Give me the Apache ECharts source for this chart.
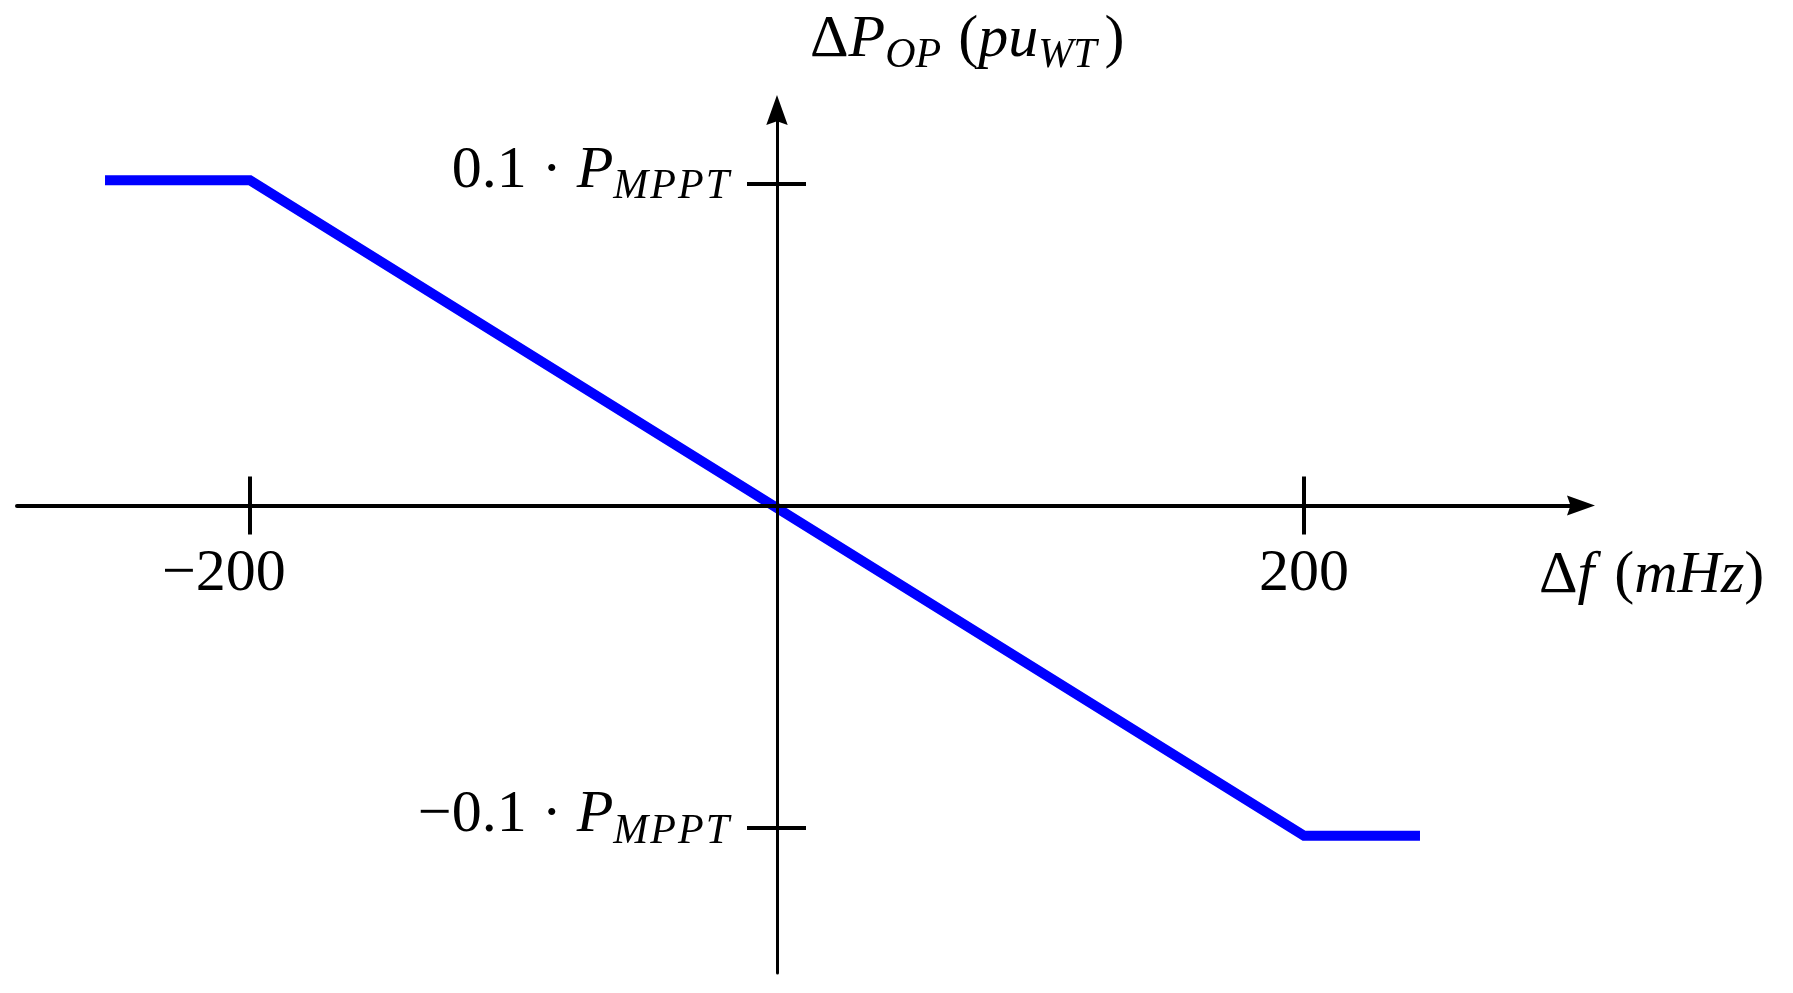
<!DOCTYPE html>
<html>
<head>
<meta charset="utf-8">
<script src="https://cdn.jsdelivr.net/npm/echarts@6/dist/echarts.min.js"></script>
<style>
html, body { margin: 0; padding: 0; background: #ffffff; }
#chart { width: 1793px; height: 993px; }
</style>
</head>
<body>
<div id="chart"></div>
<script>
// ---- data ----
const freqMHz = [-255, -200, 200, 244];            // Δf (mHz) of the droop curve breakpoints
const powerPu = [0.101, 0.101, -0.1025, -0.1025];   // ΔP_OP (pu_WT) at those breakpoints
const xTickValues = [-200, 200];
const xTickLabels = ['\u2212200', '200'];
const yTickValues = [-0.1, 0.1];
const yTickCoefs = ['\u22120.1', '0.1'];
const yTickSymbol = 'P';
const yTickSub = 'MPPT';
const xRange = [-288.4, 305.1];
const yRange = [-0.1451, 0.1228];

// ---- styling ----
const GRID = { left: 17, right: 212, top: 110, bottom: 20 };
const FONT = 'Liberation Serif';
const MAIN = 60, SUB = 42, LH = 74, SLH = 32;
const BLACK = '#000000';
const arrowPath = 'path://M10,0 L20,28 L10,24.5 L0,28 Z';

const rich = {
  n: { fontFamily: FONT, fontSize: MAIN, lineHeight: LH, color: BLACK },
  i: { fontFamily: FONT, fontSize: MAIN, lineHeight: LH, fontStyle: 'italic', color: BLACK },
  ig: { fontFamily: FONT, fontSize: MAIN, lineHeight: LH, fontStyle: 'italic', color: BLACK, padding: [0, 20, 0, 0] },
  s: { fontFamily: FONT, fontSize: SUB, lineHeight: SLH, fontStyle: 'italic', verticalAlign: 'bottom', color: BLACK },
  sp: { fontFamily: FONT, fontSize: SUB, lineHeight: SLH, fontStyle: 'italic', verticalAlign: 'bottom', color: BLACK, padding: [0, 2, 0, 0] },
  se: { fontFamily: FONT, fontSize: SUB, lineHeight: SLH, fontStyle: 'italic', verticalAlign: 'bottom', color: BLACK, padding: [0, 8, 0, 0] },
  neg: { fontFamily: FONT, fontSize: MAIN, lineHeight: 60, color: BLACK, padding: [0, 52, 0, 0] },
  pos: { fontFamily: FONT, fontSize: MAIN, lineHeight: 60, color: BLACK }
};

function nearestIndex(arr, v) {
  let best = 0;
  for (let k = 1; k < arr.length; k++) {
    if (Math.abs(arr[k] - v) < Math.abs(arr[best] - v)) best = k;
  }
  return best;
}

const subRich = yTickSub.split('').map(function (c, k, a) {
  return '{' + (k < a.length - 1 ? 'sp' : 's') + '|' + c + '}';
}).join('');

const seriesData = freqMHz.map(function (f, k) { return [f, powerPu[k]]; });

const chart = echarts.init(document.getElementById('chart'), null, { renderer: 'canvas' });

const option = {
  animation: false,
  backgroundColor: '#ffffff',
  grid: {
    left: GRID.left, right: GRID.right, top: GRID.top, bottom: GRID.bottom,
    containLabel: false, outerBoundsMode: 'none'
  },
  xAxis: [
    {
      type: 'value', position: 'bottom', min: xRange[0], max: xRange[1], z: 5,
      axisLine: { show: true, onZero: false, symbol: ['none', arrowPath], symbolSize: [23, 28],
        lineStyle: { color: BLACK, width: 4 } },
      axisTick: { show: true, customValues: xTickValues, length: 29, lineStyle: { color: BLACK, width: 4 } },
      axisLabel: {
        show: true, customValues: xTickValues, margin: 38.5, rich: rich, hideOverlap: false,
        formatter: function (v) {
          const k = nearestIndex(xTickValues, v);
          return (xTickValues[k] < 0 ? '{neg|' : '{pos|') + xTickLabels[k] + '}';
        }
      },
      splitLine: { show: false },
      name: '{n|\u0394}{ig|f}{n|(}{i|mHz}{n|)}',
      nameLocation: 'end', nameGap: -42, nameMoveOverlap: false,
      nameTextStyle: { align: 'left', verticalAlign: 'top', padding: [34, 0, 0, 0], rich: rich }
    },
    {
      type: 'value', position: 'bottom', min: xRange[0], max: xRange[1], z: 5,
      axisLine: { show: false, onZero: false },
      axisTick: { show: true, inside: true, customValues: xTickValues, length: 29, lineStyle: { color: BLACK, width: 4 } },
      axisLabel: { show: false },
      splitLine: { show: false }
    }
  ],
  yAxis: [
    {
      type: 'value', position: 'left', min: yRange[0], max: yRange[1], z: 5,
      axisLine: { show: true, onZero: false, symbol: ['none', arrowPath], symbolSize: [22, 30],
        lineStyle: { color: BLACK, width: 3 } },
      axisTick: { show: true, customValues: yTickValues, length: 30, lineStyle: { color: BLACK, width: 4 } },
      axisLabel: {
        show: true, customValues: yTickValues, margin: 48, rich: rich, hideOverlap: false,
        padding: [0, 0, 24, 0],
        formatter: function (v) {
          const k = nearestIndex(yTickValues, v);
          return '{n|' + yTickCoefs[k] + ' \u00B7 }{i|' + yTickSymbol + '}' + subRich;
        }
      },
      splitLine: { show: false },
      name: '{n|\u0394}{i|P}{sp|OP}{n| (}{i|pu}{se|WT}{n|)}',
      nameLocation: 'end', nameGap: 33, nameMoveOverlap: false,
      nameTextStyle: { align: 'left', verticalAlign: 'bottom', padding: [0, 0, 0, 33], rich: rich }
    },
    {
      type: 'value', position: 'left', min: yRange[0], max: yRange[1], z: 5,
      axisLine: { show: false, onZero: false },
      axisTick: { show: true, inside: true, customValues: yTickValues, length: 29, lineStyle: { color: BLACK, width: 4 } },
      axisLabel: { show: false },
      splitLine: { show: false }
    }
  ],
  series: [
    {
      type: 'line', xAxisIndex: 0, yAxisIndex: 0,
      data: seriesData,
      showSymbol: false, symbol: 'none', silent: true, z: 1,
      lineStyle: { color: '#0000ff', width: 10, join: 'miter' }
    }
  ]
};

chart.setOption(option);

// put the axes on the zero lines, located through the chart's own scales
const zero = chart.convertToPixel({ xAxisIndex: 0, yAxisIndex: 0 }, [0, 0]);
const xOff = zero[1] - (chart.getHeight() - GRID.bottom);
const yOff = GRID.left - zero[0];
chart.setOption({
  xAxis: [{ offset: xOff }, { offset: xOff }],
  yAxis: [{ offset: yOff }, { offset: yOff }]
});
</script>
</body>
</html>
